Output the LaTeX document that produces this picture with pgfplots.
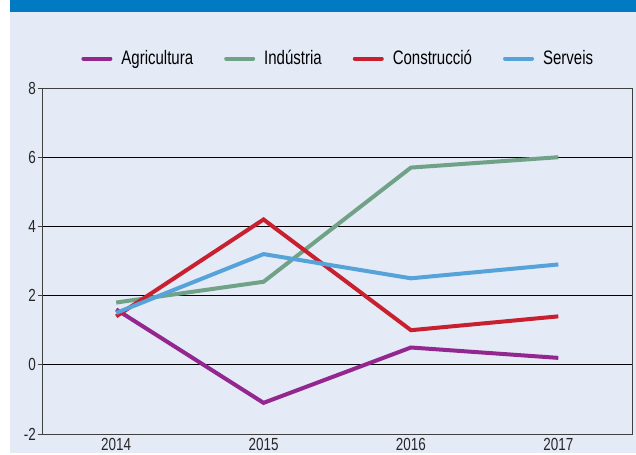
\documentclass[border=0pt]{standalone}
\usepackage{pgfplots}
\pgfplotsset{compat=1.18}
\usepackage{fontspec}
\setmainfont{Liberation Sans}[FakeStretch=0.77]
\definecolor{bg}{HTML}{E4EAF6}
\definecolor{hdr}{HTML}{007BC3}
\definecolor{agri}{HTML}{93278F}
\definecolor{indu}{HTML}{6FA287}
\definecolor{cons}{HTML}{C8202F}
\definecolor{serv}{HTML}{55A3D9}
\begin{document}
\begin{tikzpicture}[x=1pt,y=1pt]
\fill[white] (0,0) rectangle (636,453);
\fill[bg] (10,0) rectangle (636,441);
\fill[hdr] (10,441) rectangle (636,453);
\begin{axis}[
    at={(42.5pt,19pt)}, anchor=south west,
    scale only axis, width=589.5pt, height=346pt,
    xmin=-0.5, xmax=3.5, ymin=-2, ymax=8,
    xtick={0,1,2,3}, xticklabels={2014,2015,2016,2017},
    minor xtick={-0.5,0.5,1.5,2.5,3.5},
    ytick={-2,0,2,4,6,8},
    ymajorgrids, major grid style={black, line width=1pt},
    axis line style={black!75, line width=1pt},
    tick align=outside, tick pos=left,
    xtick style={draw=none},
    minor x tick style={black!75, line width=1pt},
    minor tick length=5pt,
    ytick style={black!75, line width=1pt},
    major tick length=5pt,
    tick label style={font=\fontsize{17.5}{17.5}\selectfont, text=black!85},
    /pgf/number format/assume math mode=true,
    yticklabel style={xshift=2pt},
    xticklabel style={yshift=4pt},
    legend columns=4,
    legend style={at={(0.5,1)}, anchor=center, yshift=29.5pt, draw=none, fill=none,
        font=\fontsize{19.5}{19.5}\selectfont, inner sep=0pt,
        nodes={inner sep=0pt},
        /tikz/every odd column/.append style={column sep=9pt},
        /tikz/every even column/.append style={column sep=31pt}},
    legend image code/.code={\draw[#1, line width=4pt, line cap=round] (2pt,0pt) -- (29pt,0pt);},
    every axis plot/.append style={line width=4pt, line join=miter},
    clip=false,
]
\addplot[agri] coordinates {(0,1.6) (1,-1.1) (2,0.5) (3,0.2)};
\addlegendentry{Agricultura}
\addplot[indu] coordinates {(0,1.8) (1,2.4) (2,5.7) (3,6.0)};
\addlegendentry{Indústria}
\addplot[cons] coordinates {(0,1.4) (1,4.2) (2,1.0) (3,1.4)};
\addlegendentry{Construcció}
\addplot[serv] coordinates {(0,1.5) (1,3.2) (2,2.5) (3,2.9)};
\addlegendentry{Serveis}
\end{axis}
\end{tikzpicture}
\end{document}
